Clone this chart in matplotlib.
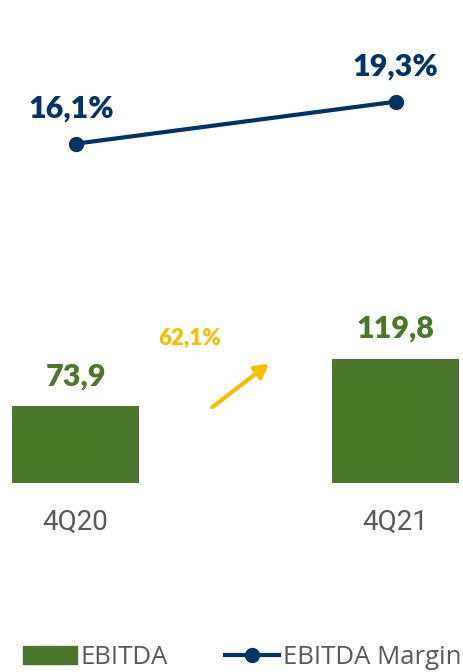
import matplotlib
matplotlib.use("Agg")
import matplotlib.pyplot as plt
from matplotlib.lines import Line2D
from matplotlib.patches import Patch

# データ
quarters = ["4Q20", "4Q21"]
ebitda = [73.9, 119.8]
margin = [16.1, 19.3]
growth_label = "62,1%"

green = "#4A7729"
navy = "#003366"
yellow = "#F5BE00"
gray = "#595959"


def fmt(v, pct=False):
    s = f"{v:.1f}".replace(".", ",")
    return s + "%" if pct else s


fig = plt.figure(figsize=(4.64, 6.72), dpi=100)
ax = fig.add_axes([0, 189 / 672, 1, 483 / 672])
x = list(range(len(quarters)))

# EBITDA の棒
ax.bar(x, ebitda, width=0.397, color=green)
ax.set_xlim(-0.236, 1.214)
ax.set_ylim(0, 466)
for xi, v in zip(x, ebitda):
    ax.annotate(fmt(v), (xi, v), xytext=(0, 15), textcoords="offset points",
                ha="center", va="baseline", fontsize=22, fontweight="heavy",
                family="Lato", color=green)

ax.set_xticks(x)
ax.set_xticklabels(quarters, fontsize=20, family="Roboto", color=gray)
ax.tick_params(axis="x", length=0, pad=19)
ax.set_yticks([])
for s in ax.spines.values():
    s.set_visible(False)

# マージンの線
ax2 = ax.twinx()
ax2.plot(x, margin, color=navy, lw=3, marker="o", ms=10)
ax2.set_ylim(-9.75, 27.05)
ax2.set_yticks([])
for s in ax2.spines.values():
    s.set_visible(False)
for xi, v, dx in zip(x, margin, [-3, 0]):
    ax2.annotate(fmt(v, True), (xi, v), xytext=(dx, 19), textcoords="offset points",
                 ha="center", va="baseline", fontsize=22, fontweight="heavy",
                 family="Lato", color=navy)

# 成長率の矢印
ax.annotate("", xy=(271 / 464, 121 / 483), xytext=(210 / 464, 74 / 483),
            xycoords="axes fraction", textcoords="axes fraction",
            arrowprops=dict(arrowstyle="-|>,head_length=0.8,head_width=0.45",
                            color=yellow, lw=3))
ax.text(190 / 464, 145 / 483, growth_label, transform=ax.transAxes,
        ha="center", va="center", fontsize=16, fontweight="heavy",
        family="Lato", color=yellow)

# 凡例
handles = [Patch(color=green, label="EBITDA"),
           Line2D([], [], color=navy, lw=3, marker="o", ms=10, label="EBITDA Margin")]
fig.legend(handles=handles, loc="center", bbox_to_anchor=(242 / 464, 15 / 672),
           ncol=2, frameon=False, handlelength=2.1,
           handletextpad=0.15, columnspacing=2.2,
           prop={"family": "Open Sans", "size": 18.5}, labelcolor=gray)

fig.savefig("out.png", dpi=100)
